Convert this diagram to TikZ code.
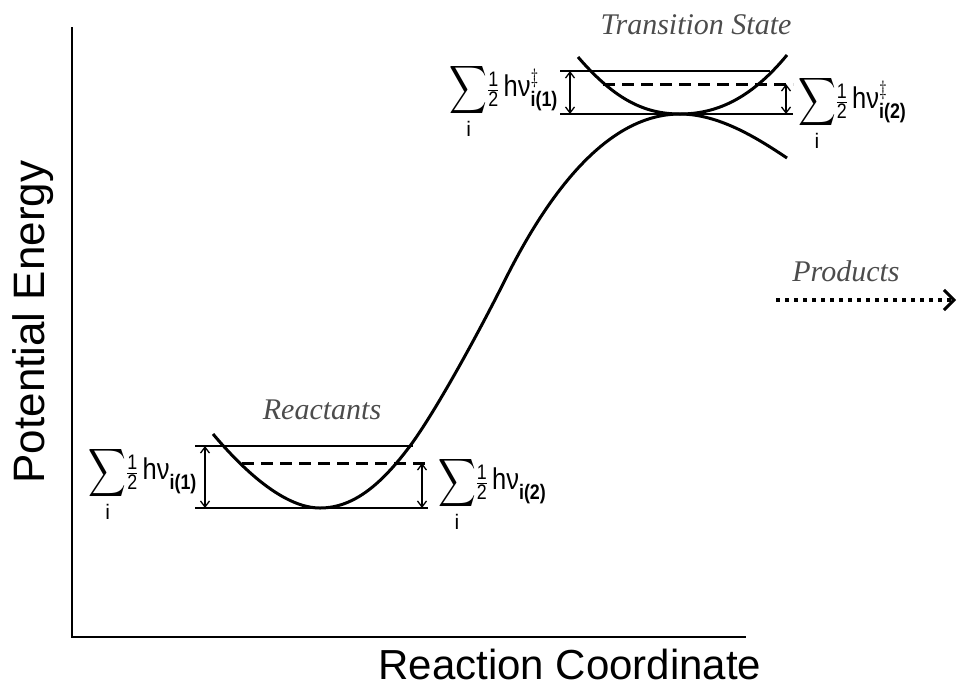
\documentclass[tikz,border=0pt]{standalone}
\usepackage{amsmath}
\usepackage{graphicx}
\usepackage{fontspec}
\setmainfont{Liberation Serif}
\setsansfont{Liberation Sans}
\usetikzlibrary{arrows.meta}
\newcommand{\zpeterm}[2]{{\fontsize{30}{34}\selectfont$\displaystyle\mathop{\vcenter{\hbox{\scalebox{1.05}[1.35]{$\displaystyle\sum$}}}}\limits_{\mathsf{i}}$}\scalebox{0.85}[1]{\fontsize{30}{34}\selectfont$\tfrac{\mathsf{1}}{\mathsf{2}}$\,\textsf{hν}$^{#1}_{\text{\sffamily\bfseries i(#2)}}$}}
\begin{document}
\begin{tikzpicture}[x=1pt,y=-1pt,
  axis/.style={line width=2pt,line cap=rect},
  pes/.style={line width=3pt,line join=round},
  level/.style={line width=1.8pt},
  zpe/.style={line width=3pt,dash pattern=on 12pt off 7pt},
  dim/.style={line width=1.3pt,{Straight Barb[length=6pt,width=9pt,line width=1.3pt]}-{Straight Barb[length=6pt,width=9pt,line width=1.3pt]}},
  axlabel/.style={font=\sffamily\fontsize{42}{46}\selectfont,inner sep=0pt},
  statelabel/.style={font=\itshape\fontsize{30}{34}\selectfont,text=black!70,inner sep=0pt},
  zpelabel/.style={inner sep=0pt}
]
\useasboundingbox (0,0) rectangle (960,686);
% axes
\coordinate (ytop) at (72,28);
\coordinate (orig) at (72,637);
\coordinate (xend) at (745,637);
\draw[axis] (ytop) -- (orig) -- (xend);
\node[axlabel,rotate=90,font=\sffamily\fontsize{44}{48}\selectfont] (ylab) at (33,322) {Potential Energy};
\node[axlabel,anchor=base] (xlab) at (570,679) {Reaction Coordinate};

% main potential energy curve
\draw[pes] (213,434) .. controls (245,472) and (285,508) .. (320,508)
  .. controls (355,508) and (383,482) .. (410,446)
  .. controls (436,411) and (480,330) .. (505,280)
  .. controls (540,210) and (600,114) .. (680,114)
  .. controls (720,114) and (760,140) .. (787,158);
% transition state well
\draw[pes] (578,57) .. controls (615,100) and (645,114) .. (680,114)
  .. controls (715,114) and (750,100) .. (787,55);

% reactant levels
\coordinate (rTL) at (195,446); \coordinate (rTR) at (413,446);
\coordinate (rDL) at (242,463); \coordinate (rDR) at (428,463);
\coordinate (rBL) at (195,508); \coordinate (rBR) at (428,508);
\draw[level] (rTL) -- (rTR);
\draw[zpe] (rDL) -- (rDR);
\draw[level] (rBL) -- (rBR);
\coordinate (ra1) at (205,446); \coordinate (ra2) at (205,508);
\coordinate (ra3) at (422,463); \coordinate (ra4) at (422,508);
\draw[dim] (ra1) -- (ra2);
\draw[dim] (ra3) -- (ra4);

% transition state levels
\coordinate (tTL) at (560,71); \coordinate (tTR) at (770,71);
\coordinate (tDL) at (603,84); \coordinate (tDR) at (793,84);
\coordinate (tBL) at (560,114); \coordinate (tBR) at (793,114);
\draw[level] (tTL) -- (tTR);
\draw[zpe] (tDL) -- (tDR);
\draw[level] (tBL) -- (tBR);
\coordinate (ta1) at (570,71); \coordinate (ta2) at (570,114);
\coordinate (ta3) at (786,84); \coordinate (ta4) at (786,114);
\draw[dim] (ta1) -- (ta2);
\draw[dim] (ta3) -- (ta4);

% labels
\node[statelabel] (react) at (322,410) {Reactants};
\node[statelabel] (ts) at (696,25) {Transition State};
\node[statelabel] (prod) at (846,271) {Products};

\node[zpelabel,anchor=east] (zr1) at (197,484) {\zpeterm{}{1}};
\node[zpelabel,anchor=west] (zr2) at (438,494) {\zpeterm{}{2}};
\node[zpelabel,anchor=east] (zt1) at (558,101) {\zpeterm{\ddagger}{1}};
\node[zpelabel,anchor=west] (zt2) at (798,113) {\zpeterm{\ddagger}{2}};

% products dotted arrow
\coordinate (p1) at (776,300);
\coordinate (p2) at (956,300);
\draw[line width=4pt,dash pattern=on 4pt off 5pt,-{Straight Barb[length=10pt,width=20pt,line width=3pt]}] (p1) -- (p2);
\end{tikzpicture}
\end{document}
